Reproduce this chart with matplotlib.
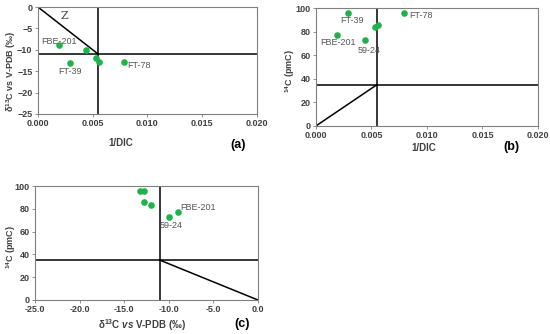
import matplotlib
matplotlib.use("Agg")
import matplotlib.pyplot as plt
import numpy as np

# sample values
samples = ["FBE-201", "59-24", "FT-39", "s4", "s5", "FT-78"]
inv_dic = [0.0019, 0.0044, 0.0029, 0.0053, 0.0056, 0.0079]
d13c = [-9.0, -10.0, -13.2, -12.0, -12.8, -12.8]
c14 = [77.0, 73.2, 95.5, 83.6, 85.6, 96.0]

# boundary values of the mixing diagrams
dic_cut = 0.0055
d13c_cut = -11.0
c14_cut = 35.0

# labels shown on each panel: (name, x, y)
labels_a = [("FBE-201", 0.0003, -8.0), ("FT-39", 0.0019, -15.2), ("FT-78", 0.0082, -13.7)]
labels_b = [("FT-39", 0.0022, 89.8), ("FT-78", 0.0084, 93.5),
            ("FBE-201", 0.0004, 70.6), ("59-24", 0.0038, 63.8)]
labels_c = [("FBE-201", -8.7, 81.3), ("59-24", -11.0, 65.3)]

GREEN = "#1fb24a"
TXT = "#404040"
plt.rcParams["font.family"] = ["Liberation Sans", "DejaVu Sans"]
plt.rcParams["mathtext.fontset"] = "custom"
plt.rcParams["mathtext.rm"] = "Liberation Sans:bold"
plt.rcParams["mathtext.it"] = "Liberation Sans:italic:bold"
plt.rcParams["mathtext.bf"] = "Liberation Sans:bold"

fig = plt.figure(figsize=(5.5, 3.34), dpi=100)


def style(ax):
    for s in ax.spines.values():
        s.set_color("#808080")
        s.set_linewidth(0.8)
    ax.tick_params(length=2, width=0.6, color="#808080", labelsize=6.5, labelcolor=TXT, pad=2)
    for t in ax.get_xticklabels() + ax.get_yticklabels():
        t.set_fontweight("bold")


def put_labels(ax, labels):
    for name, x, y in labels:
        ax.text(x, y, name, fontsize=6.5, color="#555555", va="center", ha="left")


def axis_labels(ax, xl, yl, xpos, ypos):
    ax.set_xlabel(xl, fontsize=7, fontweight="bold", color=TXT, va="center")
    ax.set_ylabel(yl, fontsize=6.5, fontweight="bold", color=TXT, va="center")
    ax.xaxis.set_label_coords(*xpos)
    ax.yaxis.set_label_coords(*ypos)


# (a)
ax = fig.add_axes([0.069, 0.659, 0.398, 0.320])
ax.plot([dic_cut, dic_cut], [-25, 0], color="black", lw=1.1)
ax.plot([0, 0.02], [d13c_cut, d13c_cut], color="black", lw=1.1)
ax.plot([0, dic_cut], [0, d13c_cut], color="black", lw=1.1)
ax.scatter(inv_dic, d13c, s=14, color=GREEN, zorder=3)
ax.text(0.0021, -2.2, "Z", fontsize=8, family="DejaVu Serif", color=TXT, va="center")
put_labels(ax, labels_a)
ax.set_xlim(0, 0.02)
ax.set_ylim(-25, 0)
ax.set_xticks(np.arange(0, 0.0201, 0.005))
ax.set_xticklabels([f"{v:.3f}" for v in np.arange(0, 0.0201, 0.005)])
ax.set_yticks(np.arange(-25, 1, 5))
axis_labels(ax, "1/DIC", "δ$^{13}$C vs V-PDB (‰)", (0.38, -0.27), (-0.123, 0.40))
style(ax)
fig.text(0.418, 0.566, "(a)", fontsize=9, fontweight="bold", color="black", va="center")

# (b)
ax = fig.add_axes([0.5745, 0.623, 0.4036, 0.353])
ax.plot([dic_cut, dic_cut], [0, 100], color="black", lw=1.1)
ax.plot([0, 0.02], [c14_cut, c14_cut], color="black", lw=1.1)
ax.plot([0, dic_cut], [0, c14_cut], color="black", lw=1.1)
ax.scatter(inv_dic, c14, s=14, color=GREEN, zorder=3)
put_labels(ax, labels_b)
ax.set_xlim(0, 0.02)
ax.set_ylim(0, 100)
ax.set_xticks(np.arange(0, 0.0201, 0.005))
ax.set_xticklabels([f"{v:.3f}" for v in np.arange(0, 0.0201, 0.005)])
ax.set_yticks(np.arange(0, 101, 20))
axis_labels(ax, "1/DIC", "$^{14}$C (pmC)", (0.486, -0.186), (-0.117, 0.466))
style(ax)
fig.text(0.915, 0.56, "(b)", fontsize=9, fontweight="bold", color="black", va="center")

# (c)
ax = fig.add_axes([0.0636, 0.102, 0.405, 0.341])
ax.plot([d13c_cut, d13c_cut], [0, 100], color="black", lw=1.1)
ax.plot([-25, 0], [c14_cut, c14_cut], color="black", lw=1.1)
ax.plot([d13c_cut, 0], [c14_cut, 0], color="black", lw=1.1)
ax.scatter(d13c, c14, s=14, color=GREEN, zorder=3)
put_labels(ax, labels_c)
ax.set_xlim(-25, 0)
ax.set_ylim(0, 100)
ax.set_xticks(np.arange(-25, 0.1, 5))
ax.set_xticklabels([f"{v:.1f}" for v in np.arange(-25, 0.1, 5)])
ax.set_yticks(np.arange(0, 101, 20))
axis_labels(ax, "δ$^{13}$C $\\it{vs}$ V-PDB (‰)", "$^{14}$C (pmC)", (0.48, -0.22), (-0.108, 0.465))
style(ax)
fig.text(0.427, 0.03, "(c)", fontsize=9, fontweight="bold", color="black", va="center")

fig.savefig("out.png", dpi=100)
